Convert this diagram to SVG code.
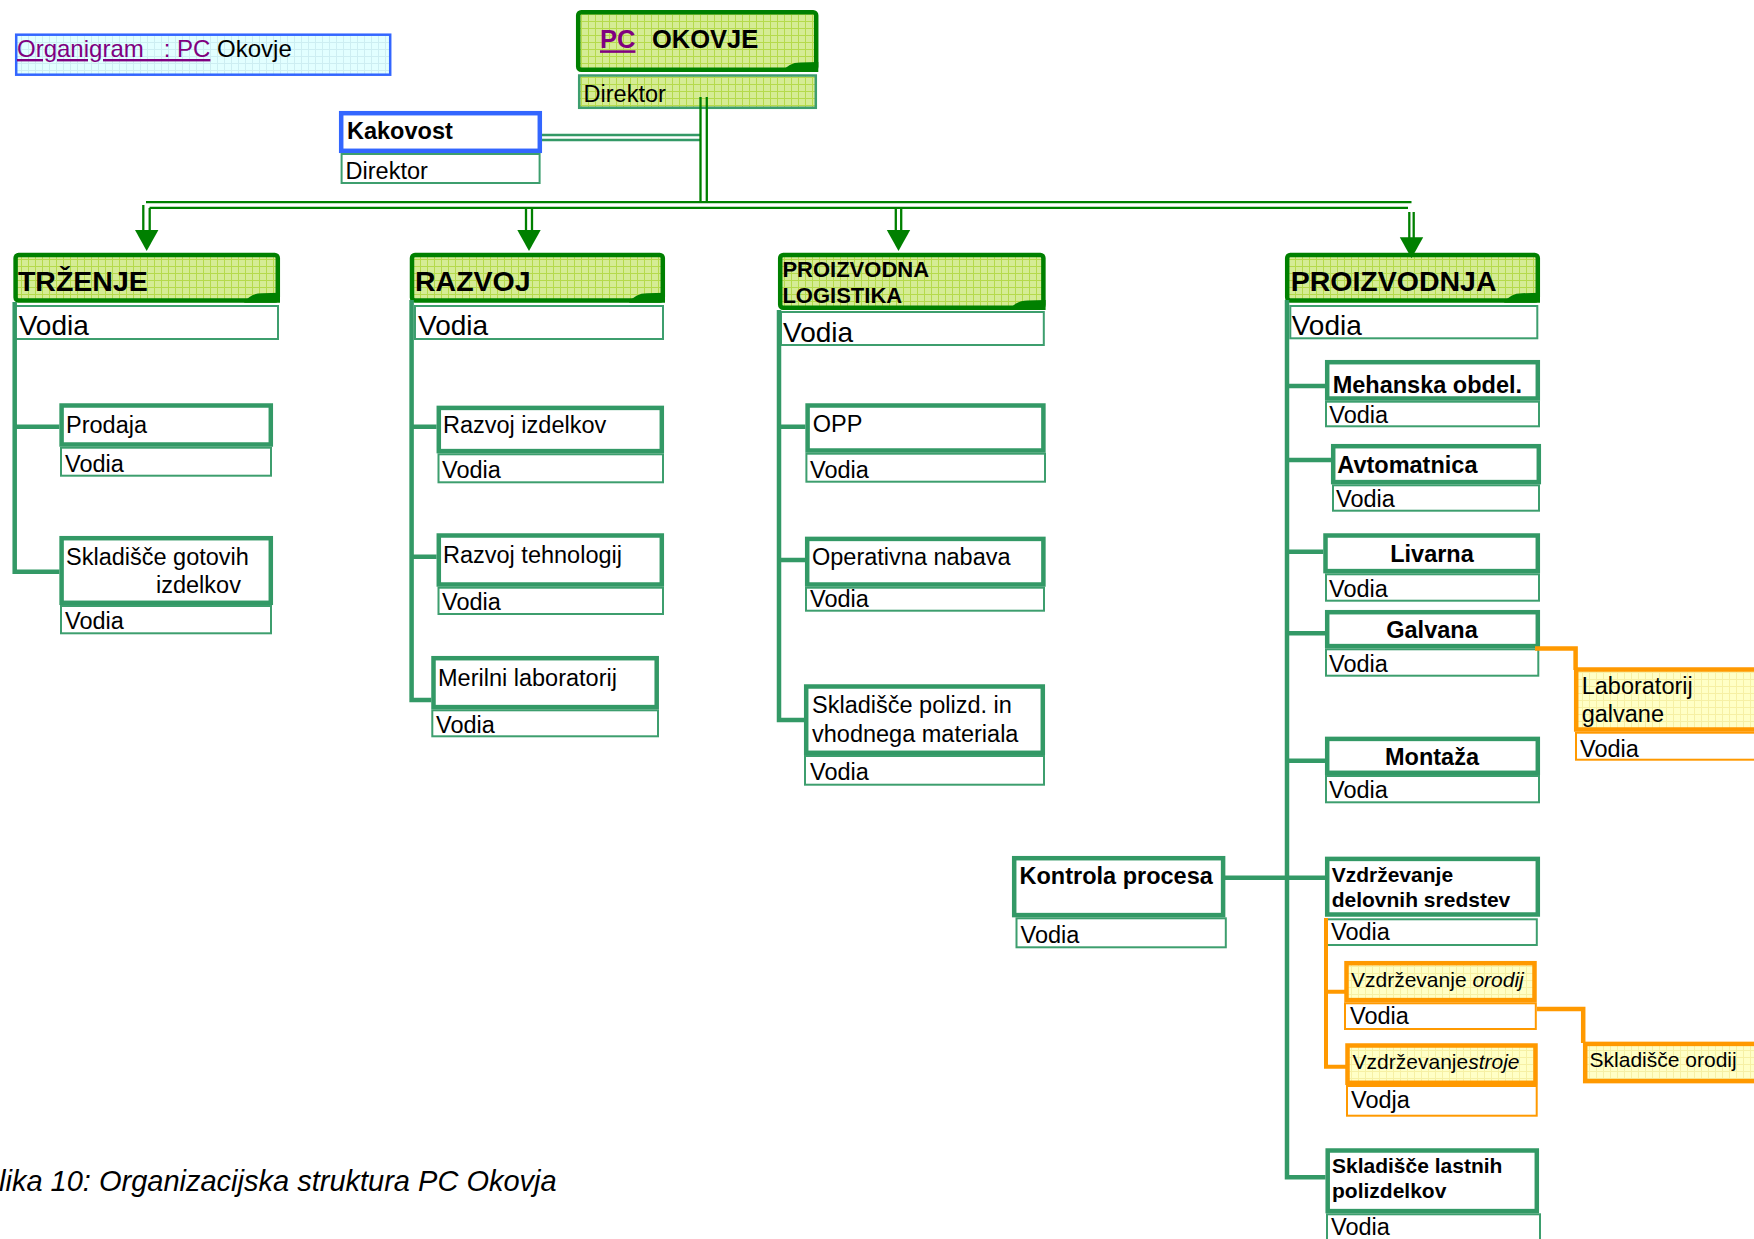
<svg xmlns="http://www.w3.org/2000/svg" width="1754" height="1239" viewBox="0 0 1754 1239">
  <defs>
    <pattern id="gridGreen" width="7" height="7" patternUnits="userSpaceOnUse">
      <rect width="7" height="7" fill="#d5ec95"/>
      <path d="M0.5 0V7M0 0.5H7" stroke="#b5da4c" stroke-width="1" fill="none"/>
    </pattern>
    <pattern id="gridYellow" width="7" height="7" patternUnits="userSpaceOnUse">
      <rect width="7" height="7" fill="#ffffc6"/>
      <path d="M0.5 0V7M0 0.5H7" stroke="#f6f0a4" stroke-width="1" fill="none"/>
    </pattern>
    <pattern id="gridCyan" width="7" height="7" patternUnits="userSpaceOnUse">
      <rect width="7" height="7" fill="#e2ffff"/>
      <path d="M0.5 0V7M0 0.5H7" stroke="#cdeef2" stroke-width="1" fill="none"/>
    </pattern>
    <!-- arrowhead, tip at origin -->
    <path id="arrowhead" d="M-11.7,-21 L11.7,-21 L0,0 Z" fill="#008000"/>
    <!-- curled corner of a department header, anchored at the outer bottom-right corner -->
    <path id="fold" d="M-36,0 Q-30,-9.5 -18,-9.5 L0,-10 L0,0 Z" fill="#008000"/>
  </defs>
  <style>
    text { font-family: "Liberation Sans", Arial, Helvetica, sans-serif; fill: #000; }
    .b { font-weight: bold; }
    .i { font-style: italic; }
    .hdr { fill: url(#gridGreen); stroke: #008000; stroke-width: 4.5; }
    .box { fill: #fff; stroke: #339966; stroke-width: 4.5; }
    .cell { fill: #fff; stroke: #3d9e6e; stroke-width: 2; }
    .gcell { fill: url(#gridGreen); stroke: #3d9e6e; stroke-width: 2.5; }
    .obox { fill: url(#gridYellow); stroke: #ff9900; stroke-width: 4.5; }
    .ocell { fill: #fff; stroke: #ff9900; stroke-width: 2; }
    .tree { fill: none; stroke: #339966; stroke-width: 4.5; }
    .otree { fill: none; stroke: #ff9900; stroke-width: 4.5; }
    .dbl { fill: none; stroke: #008000; stroke-width: 2.3; }
    .dbl2 { fill: none; stroke: #339966; stroke-width: 2.3; }
    .s21 { font-size: 21px; }
    .s23 { font-size: 23.5px; }
    .s27 { font-size: 28px; }
    .s28 { font-size: 28.5px; }
  </style>

  <!-- title label -->
  <g id="title">
    <rect x="16.2" y="34.7" width="374" height="40" fill="url(#gridCyan)" stroke="#3366ff" stroke-width="2.5"/>
    <text x="17" y="57" style="font-size:24px;white-space:pre" xml:space="preserve"><tspan fill="#800080" text-decoration="underline">Organigram   : PC</tspan> Okovje</text>
  </g>

  <!-- top node -->
  <g id="pc-okovje">
    <rect class="hdr" x="578.2" y="12.2" width="238" height="57.6" rx="3"/>
    <use href="#fold" x="818.3" y="72"/>
    <text class="b" x="600" y="48.3" style="font-size:25.5px"><tspan fill="#800080" text-decoration="underline">PC</tspan></text>
    <text class="b" x="652" y="48.3" style="font-size:25.5px">OKOVJE</text>
    <rect class="gcell" x="579.2" y="75.5" width="236.6" height="32.3"/>
    <text class="s23" x="583.6" y="101.7">Direktor</text>
  </g>

  <g id="kakovost">
    <rect x="341.2" y="113.2" width="198.6" height="37.6" fill="#fff" stroke="#3366ff" stroke-width="4.5"/>
    <text class="b s23" x="347" y="139">Kakovost</text>
    <rect class="cell" x="341.6" y="154" width="198" height="29"/>
    <text class="s23" x="345.6" y="179">Direktor</text>
  </g>

  <!-- TRŽENJE -->
  <g id="trzenje">
    <rect class="hdr" x="15.6" y="254.9" width="262.2" height="45.6" rx="3"/>
    <use href="#fold" x="280" y="302.7"/>
    <text class="b s28" x="17.9" y="290.7">TRŽENJE</text>
    <rect class="cell" x="14.4" y="306" width="263.6" height="33"/>
    <text class="s27" x="18.7" y="335">Vodia</text>
  </g>
  <g id="prodaja">
    <rect class="box" x="61.6" y="405.5" width="209.2" height="39"/>
    <text class="s23" x="66" y="432.7">Prodaja</text>
    <rect class="cell" x="61" y="447.7" width="210" height="28"/>
    <text class="s23" x="65" y="471.7">Vodia</text>
  </g>
  <g id="skladisce-gotovih">
    <rect class="box" x="61.6" y="538.2" width="209.2" height="64.6"/>
    <text class="s23" x="66" y="565">Skladišče gotovih</text>
    <text class="s23" x="156" y="593.3">izdelkov</text>
    <rect class="cell" x="61" y="606" width="210" height="27.3"/>
    <text class="s23" x="65" y="629.3">Vodia</text>
  </g>

  <!-- RAZVOJ -->
  <g id="razvoj">
    <rect class="hdr" x="412" y="254.9" width="250.8" height="45.6" rx="3"/>
    <use href="#fold" x="665" y="302.7"/>
    <text class="b s28" x="415" y="290.7">RAZVOJ</text>
    <rect class="cell" x="415" y="306" width="248" height="33"/>
    <text class="s27" x="418" y="335">Vodia</text>
  </g>
  <g id="razvoj-izdelkov">
    <rect class="box" x="438.8" y="407.9" width="223" height="43.2"/>
    <text class="s23" x="443" y="433.3">Razvoj izdelkov</text>
    <rect class="cell" x="438.5" y="454.3" width="224.5" height="28"/>
    <text class="s23" x="442" y="478">Vodia</text>
  </g>
  <g id="razvoj-tehnologij">
    <rect class="box" x="438.8" y="535.5" width="223" height="49"/>
    <text class="s23" x="443" y="563.3">Razvoj tehnologij</text>
    <rect class="cell" x="438.5" y="587.7" width="224.5" height="26.3"/>
    <text class="s23" x="442" y="610">Vodia</text>
  </g>
  <g id="merilni-laboratorij">
    <rect class="box" x="433.5" y="658.2" width="223.2" height="48.9"/>
    <text class="s23" x="438" y="685.7">Merilni laboratorij</text>
    <rect class="cell" x="432.3" y="710.3" width="225.7" height="26"/>
    <text class="s23" x="436" y="733">Vodia</text>
  </g>

  <!-- PROIZVODNA LOGISTIKA -->
  <g id="proizvodna-logistika">
    <rect class="hdr" x="780.2" y="254.9" width="263.2" height="52.9" rx="3"/>
    <use href="#fold" x="1045.6" y="310"/>
    <text class="b" x="782.4" y="277.3" style="font-size:22px">PROIZVODNA</text>
    <text class="b" x="782.4" y="303.3" style="font-size:22px">LOGISTIKA</text>
    <rect class="cell" x="781" y="312" width="262.8" height="33"/>
    <text class="s27" x="783" y="341.7">Vodia</text>
  </g>
  <g id="opp">
    <rect class="box" x="807.6" y="405.5" width="235.8" height="45"/>
    <text class="s23" x="812.7" y="431.7">OPP</text>
    <rect class="cell" x="806.4" y="453.7" width="238.6" height="28"/>
    <text class="s23" x="810" y="478">Vodia</text>
  </g>
  <g id="operativna-nabava">
    <rect class="box" x="807.2" y="538.9" width="236.2" height="45.6"/>
    <text class="s23" x="812" y="565">Operativna nabava</text>
    <rect class="cell" x="806" y="587.7" width="238" height="23"/>
    <text class="s23" x="810" y="607">Vodia</text>
  </g>
  <g id="skladisce-polizd">
    <rect class="box" x="806.2" y="686.5" width="236.6" height="66.3"/>
    <text class="s23" x="812" y="713.3">Skladišče polizd. in</text>
    <text class="s23" x="812" y="741.7">vhodnega materiala</text>
    <rect class="cell" x="805" y="756" width="239" height="28.7"/>
    <text class="s23" x="810" y="780">Vodia</text>
  </g>

  <!-- PROIZVODNJA -->
  <g id="proizvodnja">
    <rect class="hdr" x="1287.2" y="254.9" width="250.6" height="45.6" rx="3"/>
    <use href="#fold" x="1540" y="302.7"/>
    <text class="b s28" x="1290.7" y="291">PROIZVODNJA</text>
    <rect class="cell" x="1290.3" y="306" width="247" height="32.3"/>
    <text class="s27" x="1291.7" y="335">Vodia</text>
  </g>
  <g id="mehanska-obdelava">
    <rect class="box" x="1327.2" y="362.2" width="210.6" height="36.3"/>
    <text class="b s23" x="1332.7" y="393.3">Mehanska obdel.</text>
    <rect class="cell" x="1326" y="401.7" width="213" height="24.6"/>
    <text class="s23" x="1329.3" y="422.7">Vodia</text>
  </g>
  <g id="avtomatnica">
    <rect class="box" x="1333.2" y="446.2" width="205.6" height="35.9"/>
    <text class="b s23" x="1337.3" y="473.3">Avtomatnica</text>
    <rect class="cell" x="1333" y="485.3" width="206" height="25.4"/>
    <text class="s23" x="1336" y="507.3">Vodia</text>
  </g>
  <g id="livarna">
    <rect class="box" x="1325.5" y="535.5" width="212.3" height="35.6"/>
    <text class="b s23" x="1432" y="561.7" text-anchor="middle">Livarna</text>
    <rect class="cell" x="1326" y="574.3" width="213" height="26.4"/>
    <text class="s23" x="1329" y="596.7">Vodia</text>
  </g>
  <g id="galvana">
    <rect class="box" x="1327.2" y="612.2" width="210.6" height="33.9"/>
    <text class="b s23" x="1432" y="638.3" text-anchor="middle">Galvana</text>
    <rect class="cell" x="1326" y="649.3" width="212.3" height="26.4"/>
    <text class="s23" x="1329" y="671.7">Vodia</text>
  </g>
  <g id="laboratorij-galvane">
    <rect class="obox" x="1576.2" y="669.5" width="200" height="60"/>
    <text class="s23" x="1581.7" y="694.3">Laboratorij</text>
    <text class="s23" x="1581.7" y="721.7">galvane</text>
    <rect class="ocell" x="1576" y="732.7" width="200" height="27"/>
    <text class="s23" x="1580" y="756.7">Vodia</text>
  </g>
  <g id="montaza">
    <rect class="box" x="1327.2" y="738.9" width="210.6" height="33.9"/>
    <text class="b s23" x="1432" y="765" text-anchor="middle">Montaža</text>
    <rect class="cell" x="1326" y="776" width="213" height="26.3"/>
    <text class="s23" x="1329" y="798.3">Vodia</text>
  </g>
  <g id="kontrola-procesa">
    <rect class="box" x="1014.2" y="858.2" width="208.9" height="56.9"/>
    <text class="b s23" x="1019.5" y="884.3">Kontrola procesa</text>
    <rect class="cell" x="1016.5" y="918.3" width="209.3" height="29"/>
    <text class="s23" x="1020.5" y="942.7">Vodia</text>
  </g>
  <g id="vzdrzevanje-delovnih-sredstev">
    <rect class="box" x="1327.2" y="858.9" width="210.6" height="55.6"/>
    <text class="b s21" x="1331.7" y="881.7">Vzdrževanje</text>
    <text class="b s21" x="1331.7" y="906.7">delovnih sredstev</text>
    <rect class="cell" x="1326.5" y="919.3" width="210.3" height="25.7"/>
    <text class="s23" x="1331" y="940">Vodia</text>
  </g>
  <g id="vzdrzevanje-orodij">
    <rect class="obox" x="1346.5" y="963.2" width="188" height="36.9"/>
    <text class="s21" x="1351" y="986.7">Vzdrževanje <tspan class="i">orodij</tspan></text>
    <rect class="ocell" x="1345" y="1003.3" width="190.8" height="25.7"/>
    <text class="s23" x="1350" y="1024">Vodia</text>
  </g>
  <g id="skladisce-orodij">
    <rect class="obox" x="1585.2" y="1043.9" width="190" height="37.2"/>
    <text class="s21" x="1589.6" y="1066.7">Skladišče orodij</text>
  </g>
  <g id="vzdrzevanje-stroje">
    <rect class="obox" x="1347.5" y="1045.5" width="188" height="37.3"/>
    <text class="s21" x="1352.6" y="1069.3">Vzdrževanje<tspan class="i">stroje</tspan></text>
    <rect class="ocell" x="1347" y="1086" width="189.7" height="29.7"/>
    <text class="s23" x="1351" y="1108.3">Vodja</text>
  </g>
  <g id="skladisce-lastnih-polizdelkov">
    <rect class="box" x="1327.7" y="1150.5" width="209.1" height="60.6"/>
    <text class="b s21" x="1332" y="1173.3">Skladišče lastnih</text>
    <text class="b s21" x="1332" y="1198.3">polizdelkov</text>
    <rect class="cell" x="1327" y="1214.3" width="213" height="30"/>
    <text class="s23" x="1331" y="1235">Vodia</text>
  </g>

  <!-- connectors -->
  <g id="connectors">
    <!-- director to departments -->
    <path class="dbl2" d="M542,135H701M542,140H701"/>
    <path class="dbl" d="M700.5,97V202M706.8,97V202"/>
    <path class="dbl" d="M146,202.2H1411.5M149.5,207.8H1408"/>
    <path class="dbl" d="M143.3,205V231M149.7,208V231"/>
    <path class="dbl" d="M526,208V231M532,208V231"/>
    <path class="dbl" d="M895.8,208V231M901.2,208V231"/>
    <path class="dbl" d="M1409.3,212V238M1413.7,212V238"/>
    <use href="#arrowhead" x="146.7" y="251"/>
    <use href="#arrowhead" x="529" y="251"/>
    <use href="#arrowhead" x="898.5" y="251"/>
    <use href="#arrowhead" x="1411.5" y="258.3"/>

    <!-- department trees -->
    <path class="tree" d="M14.7,302V571.7H59.4M14.7,426.7H59.4"/>
    <path class="tree" d="M411.6,300V700H431.3M411.6,426.7H436.6M411.6,556.7H436.6"/>
    <path class="tree" d="M779,310V720H804M779,426.7H805.4M779,560H805"/>
    <path class="tree" d="M1287,300V1177.3H1325.5M1287,386H1325M1287,460H1331M1287,551.7H1323.3M1287,633.3H1325M1287,760.7H1325M1225,877.7H1325"/>

    <!-- orange sub-branches -->
    <path class="otree" d="M1535,648.4H1575.6V670"/>
    <path class="otree" d="M1326,918V1066.7H1346M1326,991.7H1345" style="stroke-width:4"/>
    <path class="otree" d="M1537,1009H1583.2V1043"/>
  </g>

  <text class="i" x="-1" y="1190.7" style="font-size:29px">lika 10: Organizacijska struktura PC Okovja</text>
</svg>
